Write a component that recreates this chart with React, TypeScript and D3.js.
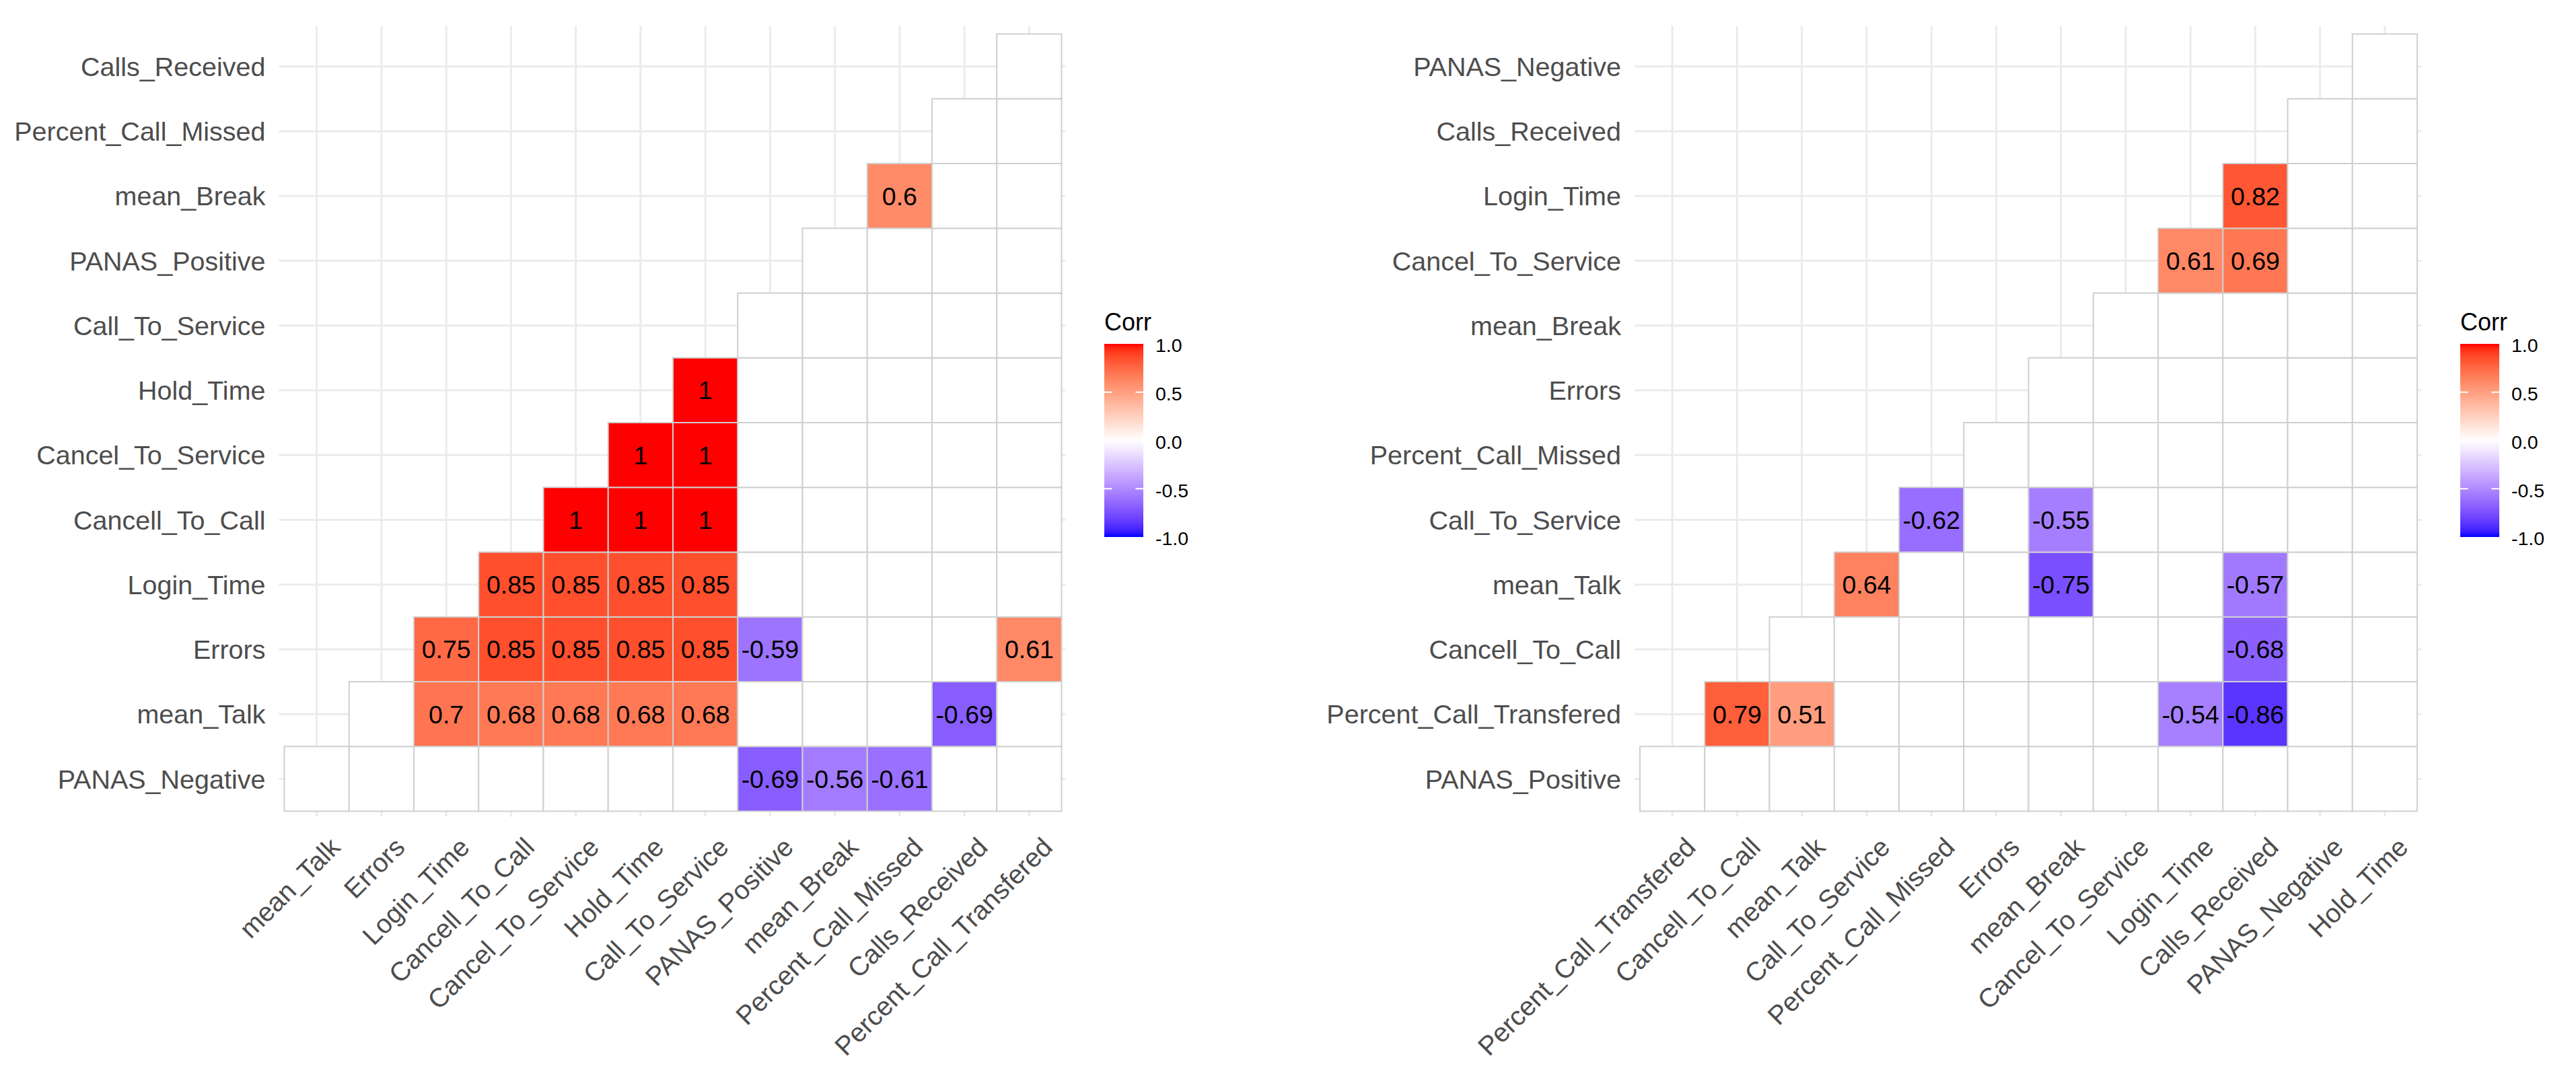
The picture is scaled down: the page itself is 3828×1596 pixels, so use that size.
import React from "react";
import * as d3 from "d3";

// left plot: x categories, y categories (bottom -> top), cell values per y row
const leftX = [
  "mean_Talk",
  "Errors",
  "Login_Time",
  "Cancell_To_Call",
  "Cancel_To_Service",
  "Hold_Time",
  "Call_To_Service",
  "PANAS_Positive",
  "mean_Break",
  "Percent_Call_Missed",
  "Calls_Received",
  "Percent_Call_Transfered",
];
const leftY = [
  "PANAS_Negative",
  "mean_Talk",
  "Errors",
  "Login_Time",
  "Cancell_To_Call",
  "Cancel_To_Service",
  "Hold_Time",
  "Call_To_Service",
  "PANAS_Positive",
  "mean_Break",
  "Percent_Call_Missed",
  "Calls_Received",
];
// null = no tile, 0 = blank (white) tile
const leftCorr = [
  [0, 0, 0, 0, 0, 0, 0, -0.69, -0.56, -0.61, 0, 0],
  [null, 0, 0.7, 0.68, 0.68, 0.68, 0.68, 0, 0, 0, -0.69, 0],
  [null, null, 0.75, 0.85, 0.85, 0.85, 0.85, -0.59, 0, 0, 0, 0.61],
  [null, null, null, 0.85, 0.85, 0.85, 0.85, 0, 0, 0, 0, 0],
  [null, null, null, null, 1, 1, 1, 0, 0, 0, 0, 0],
  [null, null, null, null, null, 1, 1, 0, 0, 0, 0, 0],
  [null, null, null, null, null, null, 1, 0, 0, 0, 0, 0],
  [null, null, null, null, null, null, null, 0, 0, 0, 0, 0],
  [null, null, null, null, null, null, null, null, 0, 0, 0, 0],
  [null, null, null, null, null, null, null, null, null, 0.6, 0, 0],
  [null, null, null, null, null, null, null, null, null, null, 0, 0],
  [null, null, null, null, null, null, null, null, null, null, null, 0],
];

// right plot
const rightX = [
  "Percent_Call_Transfered",
  "Cancell_To_Call",
  "mean_Talk",
  "Call_To_Service",
  "Percent_Call_Missed",
  "Errors",
  "mean_Break",
  "Cancel_To_Service",
  "Login_Time",
  "Calls_Received",
  "PANAS_Negative",
  "Hold_Time",
];
const rightY = [
  "PANAS_Positive",
  "Percent_Call_Transfered",
  "Cancell_To_Call",
  "mean_Talk",
  "Call_To_Service",
  "Percent_Call_Missed",
  "Errors",
  "mean_Break",
  "Cancel_To_Service",
  "Login_Time",
  "Calls_Received",
  "PANAS_Negative",
];
const rightCorr = [
  [0, 0, 0, 0, 0, 0, 0, 0, 0, 0, 0, 0],
  [null, 0.79, 0.51, 0, 0, 0, 0, 0, -0.54, -0.86, 0, 0],
  [null, null, 0, 0, 0, 0, 0, 0, 0, -0.68, 0, 0],
  [null, null, null, 0.64, 0, 0, -0.75, 0, 0, -0.57, 0, 0],
  [null, null, null, null, -0.62, 0, -0.55, 0, 0, 0, 0, 0],
  [null, null, null, null, null, 0, 0, 0, 0, 0, 0, 0],
  [null, null, null, null, null, null, 0, 0, 0, 0, 0, 0],
  [null, null, null, null, null, null, null, 0, 0, 0, 0, 0],
  [null, null, null, null, null, null, null, null, 0.61, 0.69, 0, 0],
  [null, null, null, null, null, null, null, null, null, 0.82, 0, 0],
  [null, null, null, null, null, null, null, null, null, null, 0, 0],
  [null, null, null, null, null, null, null, null, null, null, null, 0],
];

const legendBreaks = [1, 0.5, 0, -0.5, -1];

const FONT = "'Liberation Sans', Arial, sans-serif";

// gradient2 blue - white - red, interpolated in Lab
const toRed = d3.interpolateLab("#FFFFFF", "#FF0000");
const toBlue = d3.interpolateLab("#FFFFFF", "#0000FF");
const corrColor = (v: number) => (v >= 0 ? toRed(v) : toBlue(-v));

const fmt = (v: number) => String(v);

function CorrPanel({
  id,
  xCats,
  yCats,
  corr,
  x0,
  legendX,
}: {
  id: string;
  xCats: string[];
  yCats: string[];
  corr: (number | null)[][];
  x0: number;
  legendX: number;
}) {
  const cell = 96.25;
  const y0 = 50.5;
  const n = xCats.length;
  const x = d3
    .scaleBand()
    .domain(xCats)
    .range([x0, x0 + n * cell]);
  const y = d3
    .scaleBand()
    .domain(yCats.slice().reverse())
    .range([y0, y0 + yCats.length * cell]);

  const left = x0 - 8;
  const right = x0 + n * cell + 6;
  const top = y0 - 12;
  const bottom = y0 + yCats.length * cell + 8;

  const tiles: { xi: number; yi: number; v: number }[] = [];
  corr.forEach((row, yi) =>
    row.forEach((v, xi) => {
      if (v !== null) tiles.push({ xi, yi, v });
    }),
  );

  // legend
  const barTop = 511;
  const barBottom = 798;
  const barW = 58;
  const ly = d3.scaleLinear().domain([1, -1]).range([barTop + 2, barBottom + 2]);
  const stops = d3.range(0, 41).map((i) => 1 - i / 20);

  return (
    <g>
      {/* grid */}
      <g stroke="#EBEBEB" strokeWidth={3}>
        {xCats.map((c) => (
          <line
            key={"gx" + c}
            x1={x(c)! + cell / 2}
            x2={x(c)! + cell / 2}
            y1={top}
            y2={bottom}
          />
        ))}
        {yCats.map((c) => (
          <line
            key={"gy" + c}
            y1={y(c)! + cell / 2}
            y2={y(c)! + cell / 2}
            x1={left}
            x2={right}
          />
        ))}
      </g>
      {/* tiles */}
      <g>
        {tiles.map((t) => (
          <rect
            key={`t${t.xi}-${t.yi}`}
            x={x(xCats[t.xi])}
            y={y(yCats[t.yi])}
            width={cell}
            height={cell}
            fill={corrColor(t.v)}
            stroke="#CFCFCF"
            strokeWidth={2}
          />
        ))}
      </g>
      {/* cell labels */}
      <g fontFamily={FONT} fontSize={37.5} fill="#000" textAnchor="middle">
        {tiles
          .filter((t) => t.v !== 0)
          .map((t) => (
            <text
              key={`l${t.xi}-${t.yi}`}
              x={x(xCats[t.xi])! + cell / 2}
              y={y(yCats[t.yi])! + cell / 2}
              dy="0.36em"
            >
              {fmt(t.v)}
            </text>
          ))}
      </g>
      {/* y axis */}
      <g fontFamily={FONT} fontSize={39.5} fill="#4D4D4D" textAnchor="end">
        {yCats.map((c) => (
          <text key={"ya" + c} x={x0 - 28} y={y(c)! + cell / 2} dy="0.36em">
            {c}
          </text>
        ))}
      </g>
      {/* x axis */}
      <g fontFamily={FONT} fontSize={39.5} fill="#4D4D4D" textAnchor="end">
        {xCats.map((c) => (
          <text
            key={"xa" + c}
            transform={`translate(${x(c)! + cell / 2 + 37},${bottom + 48}) rotate(-45)`}
          >
            {c}
          </text>
        ))}
      </g>
      {/* legend */}
      <defs>
        <linearGradient id={id + "grad"} x1="0" y1="0" x2="0" y2="1">
          {stops.map((v, i) => (
            <stop
              key={i}
              offset={`${(i / 40) * 100}%`}
              stopColor={corrColor(v)}
            />
          ))}
        </linearGradient>
      </defs>
      <text
        x={legendX}
        y={491}
        fontFamily={FONT}
        fontSize={36}
        fill="#000"
      >
        Corr
      </text>
      <rect
        x={legendX}
        y={barTop}
        width={barW}
        height={barBottom - barTop}
        fill={`url(#${id}grad)`}
      />
      <g stroke="#FFFFFF" strokeWidth={2}>
        {legendBreaks
          .filter((b) => Math.abs(b) < 1)
          .map((b) => (
            <g key={"lt" + b}>
              <line
                x1={legendX}
                x2={legendX + barW / 5}
                y1={ly(b) - 2}
                y2={ly(b) - 2}
              />
              <line
                x1={legendX + barW - barW / 5}
                x2={legendX + barW}
                y1={ly(b) - 2}
                y2={ly(b) - 2}
              />
            </g>
          ))}
      </g>
      <g fontFamily={FONT} fontSize={28.5} fill="#000">
        {legendBreaks.map((b) => (
          <text key={"ll" + b} x={legendX + barW + 18} y={ly(b)} dy="0.36em">
            {b.toFixed(1)}
          </text>
        ))}
      </g>
    </g>
  );
}

export default function App() {
  return (
    <svg
      width={3828}
      height={1596}
      style={{ position: "absolute", left: 0, top: 0, background: "#fff" }}
    >
      <rect width={3828} height={1596} fill="#fff" />
      <CorrPanel
        id="left"
        xCats={leftX}
        yCats={leftY}
        corr={leftCorr}
        x0={422.5}
        legendX={1641}
      />
      <CorrPanel
        id="right"
        xCats={rightX}
        yCats={rightY}
        corr={rightCorr}
        x0={2437}
        legendX={3656}
      />
    </svg>
  );
}
